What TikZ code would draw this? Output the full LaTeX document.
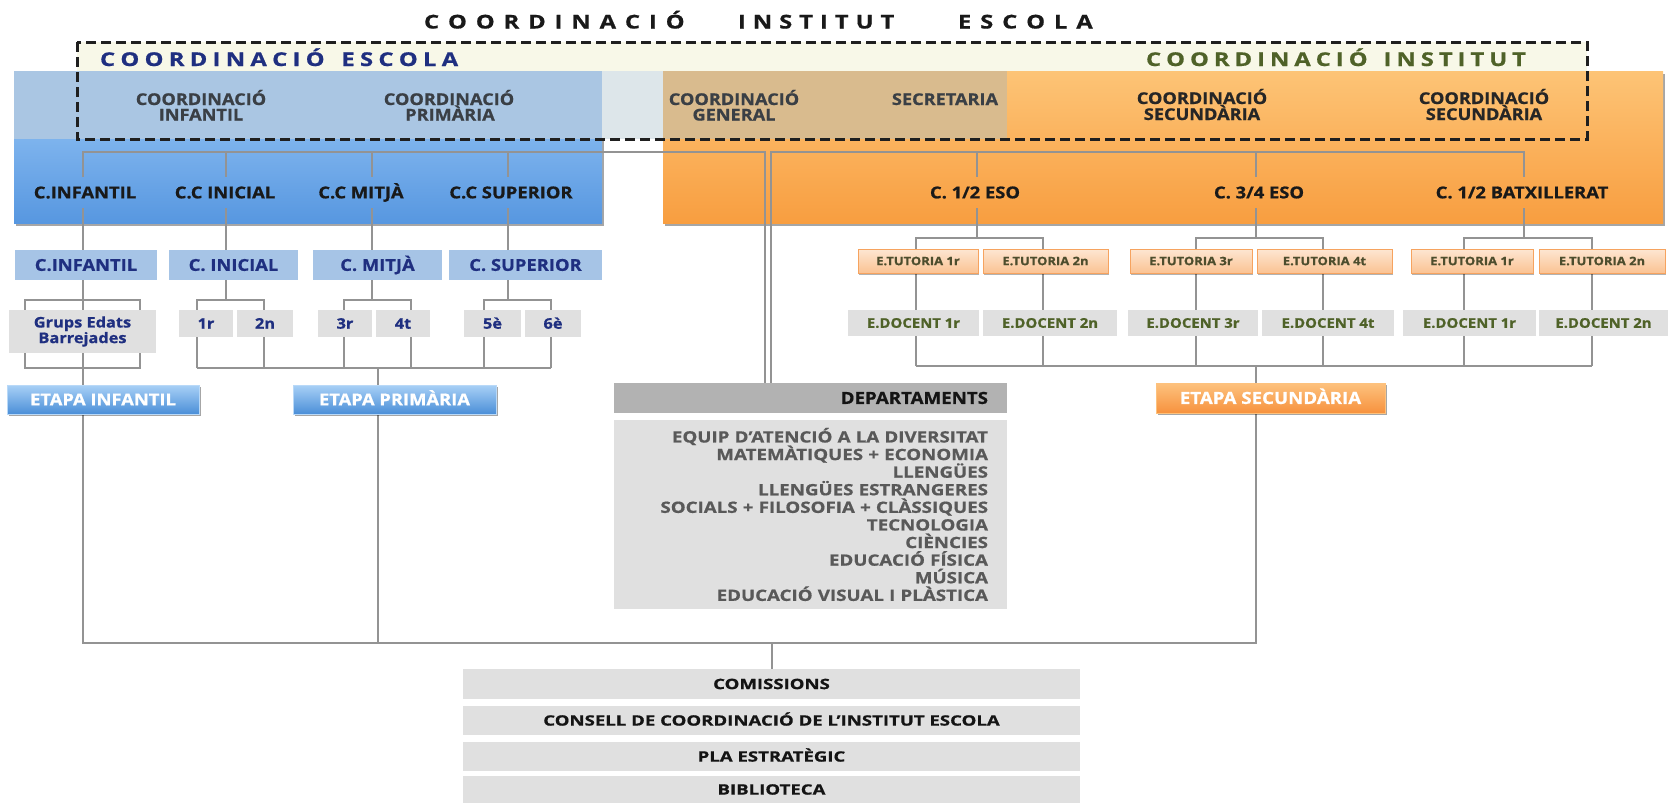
\documentclass[tikz,border=0pt]{standalone}
\usepackage{fontspec}
\setmainfont{Open Sans}
\newfontfamily\fa[FakeStretch=1.12,FakeBold=0.8]{Open Sans}
\newfontfamily\fb[FakeStretch=1.2,FakeBold=0.8]{Open Sans}
\newfontfamily\fc[FakeStretch=1.3,FakeBold=0.8]{Open Sans}
\newfontfamily\fh[FakeStretch=1.25,FakeBold=0.8]{Open Sans}
\usetikzlibrary{shadows,backgrounds}
\definecolor{navy}{HTML}{1F2F80}
\definecolor{olivegr}{HTML}{4F6228}
\definecolor{cream}{HTML}{F8F8E8}
\definecolor{connc}{HTML}{939393}
\definecolor{lblue}{HTML}{A6C4E6}
\definecolor{lgrey}{HTML}{E0E0E0}
\definecolor{mgrey}{HTML}{B2B2B2}
\definecolor{blueA}{HTML}{9CCAF8}
\definecolor{blueB}{HTML}{5797E0}
\definecolor{orA}{HTML}{FDC476}
\definecolor{orB}{HTML}{F89E40}
\definecolor{blueTop}{HTML}{AAC6E3}
\definecolor{gapc}{HTML}{DDE6EA}
\definecolor{tanc}{HTML}{D9BB8E}
\definecolor{dgrey}{HTML}{3A3F45}
\definecolor{etA}{HTML}{A8D0F6}
\definecolor{etB}{HTML}{4B8FD8}
\definecolor{esA}{HTML}{FDC27E}
\definecolor{esB}{HTML}{F7923E}
\definecolor{tuA}{HTML}{FDE6D2}
\definecolor{tuB}{HTML}{FBC393}
\definecolor{tuD}{HTML}{F6A35F}
\definecolor{tuT}{HTML}{4D4D2D}
\definecolor{depT}{HTML}{595959}
\newcommand\fsz[1]{\fontsize{#1}{#1}\selectfont}
% manual letter spacing: \lsp{kern}{word}
\newcommand\lsp[2]{\def\lspk{#1}\lspi#2\relax}
\def\lspi#1{\ifx#1\relax\else#1\kern\lspk\expandafter\lspi\fi}
\newcommand\boxnode[7]{\node[#6, minimum width={#4-#2}, minimum height={#5-#3}] (#1) at ({(#2+#4)/2},{(#3+#5)/2}) {#7};}
\tikzset{
  every node/.style={inner sep=0pt, outer sep=0pt},
  conn/.style={draw=connc, line width=1.5pt},
  bigbox/.style={drop shadow={shadow xshift=2pt, shadow yshift=-3pt, opacity=0.35, fill=black}},
  bluebig/.style={bigbox, top color=blueA, bottom color=blueB},
  orbig/.style={bigbox, top color=orA, bottom color=orB},
  dashbox/.style={draw=black!88, line width=3pt, dash pattern=on 10pt off 5pt},
  titletxt/.style={font=\fh\bfseries\fsz{19}, text=black!90, anchor=base west},
  headtxt/.style={font=\fh\bfseries\fsz{19}, anchor=base west},
  toptxt/.style={font=\fa\bfseries\fsz{16.2}, text=dgrey, anchor=base},
  bigtxt/.style={font=\fa\bfseries\fsz{16.4}, text=black!90, text height=11.7pt, text depth=0pt, minimum height=31pt},
  lb/.style={fill=lblue, text=navy, font=\fa\bfseries\fsz{16.4}, text height=11.7pt, text depth=0pt},
  gb/.style={fill=lgrey, text=navy, font=\fa\bfseries\fsz{14.6}, text height=10.4pt, text depth=0pt},
  gbm/.style={fill=lgrey, text=navy, font=\fa\bfseries\fontsize{14.6}{14.5}\selectfont, align=center},
  etb/.style={top color=etA, bottom color=etB, draw=etA!80!white, line width=0.8pt, text=white, font=\fa\bfseries\fsz{16.4}, text height=11.7pt, text depth=0pt, drop shadow={shadow xshift=1.5pt, shadow yshift=-2pt, opacity=0.35, fill=black}},
  ets/.style={top color=esA, bottom color=esB, draw=esA, line width=0.8pt, text=white, font=\fa\bfseries\fsz{16.7}, text height=11.9pt, text depth=0pt, drop shadow={shadow xshift=1.5pt, shadow yshift=-2pt, opacity=0.35, fill=black}},
  tut/.style={top color=tuA, bottom color=tuB, draw=tuD, line width=1pt, text=tuT, font=\fa\bfseries\fsz{11.6}, text height=8.3pt, text depth=0pt, drop shadow={shadow xshift=1pt, shadow yshift=-1.5pt, opacity=0.3, fill=black}},
  doc/.style={fill=lgrey, text=olivegr, font=\fa\bfseries\fsz{13.3}, text height=9.5pt, text depth=0pt},
  depst/.style={fill=mgrey, text=black!92, font=\fa\bfseries\fsz{16.7}, text height=11.9pt, text depth=0pt, text width=355pt, align=right},
  deplst/.style={fill=lgrey, text=depT, font=\fb\bfseries\fontsize{15.6}{17.6}\selectfont, text width=355pt, align=right},
  bot/.style={fill=lgrey, text=black!92, font=\fc\bfseries\fsz{14.3}, text height=10.2pt, text depth=0pt}
}
\begin{document}
\begin{tikzpicture}[x=1pt,y=-1pt]
\useasboundingbox (0,0) rectangle (1668,803);
% background blocks
\begin{pgfonlayer}{background}
\fill[cream] (77,42) rectangle (1587,139);
\boxnode{escola}{14}{71}{602}{223}{bluebig}{}
\boxnode{institut}{663}{71}{1663}{223}{orbig}{}
\fill[blueTop] (14,71) rectangle (602,139);
\fill[gapc] (602,71) rectangle (663,139);
\fill[tanc] (663,71) rectangle (1007,139);
\end{pgfonlayer}
\draw[dashbox] (77,42) rectangle (1587,139);
% titles
\node[titletxt] (ti1) at (424,28.5) {\lsp{8.9pt}{COORDINACIÓ}};
\node[titletxt] (ti2) at (738,28.5) {\lsp{7pt}{INSTITUT}};
\node[titletxt] (ti3) at (958,28.5) {\lsp{8.9pt}{ESCOLA}};
\node[headtxt, text=navy] (hE) at (100,66) {\lsp{5.3pt}{COORDINACIÓ}\hspace{11.5pt}\lsp{5.3pt}{ESCOLA}};
\node[headtxt, text=olivegr] (hI) at (1146,66) {\lsp{5pt}{COORDINACIÓ}\hspace{11pt}\lsp{5pt}{INSTITUT}};
% top row labels
\node[toptxt] (ciA) at (201,105) {COORDINACIÓ};
\node[toptxt] (ciB) at (201,120.5) {INFANTIL};
\node[toptxt] (cpA) at (449,105) {COORDINACIÓ};
\node[toptxt] (cpB) at (450,120.5) {PRIMÀRIA};
\node[toptxt] (cgA) at (734,105) {COORDINACIÓ};
\node[toptxt] (cgB) at (734,120.5) {GENERAL};
\node[toptxt] (sec) at (945,105) {SECRETARIA};
\node[toptxt, text=black!85] (csA) at (1202,104) {COORDINACIÓ};
\node[toptxt, text=black!85] (csB) at (1202,120) {SECUNDÀRIA};
\node[toptxt, text=black!85] (cdA) at (1484,104) {COORDINACIÓ};
\node[toptxt, text=black!85] (cdB) at (1484,120) {SECUNDÀRIA};
% big box row labels
\node[bigtxt] (tInf) at (85,192.5) {C.INFANTIL};
\node[bigtxt] (tIni) at (225,192.5) {C.C INICIAL};
\node[bigtxt] (tMit) at (361,192.5) {C.C MITJÀ};
\node[bigtxt] (tSup) at (511,192.5) {C.C SUPERIOR};
\node[bigtxt] (t12) at (975,192.5) {C. 1/2 ESO};
\node[bigtxt] (t34) at (1259,192.5) {C. 3/4 ESO};
\node[bigtxt] (tBat) at (1522,192.5) {C. 1/2 BATXILLERAT};
% primary side
\boxnode{lbInf}{15}{250}{157}{280}{lb}{C.INFANTIL}
\boxnode{lbIni}{169}{250}{298}{280}{lb}{C. INICIAL}
\boxnode{lbMit}{313}{250}{442}{280}{lb}{C. MITJÀ}
\boxnode{lbSup}{449}{250}{602}{280}{lb}{C. SUPERIOR}
\boxnode{grups}{9}{310}{156}{353}{gbm}{Grups Edats\\Barrejades}
\boxnode{g1}{179}{310}{233}{337}{gb}{1r}
\boxnode{g2}{237}{310}{293}{337}{gb}{2n}
\boxnode{g3}{318}{310}{372}{337}{gb}{3r}
\boxnode{g4}{376}{310}{430}{337}{gb}{4t}
\boxnode{g5}{464}{310}{521}{337}{gb}{5è}
\boxnode{g6}{525}{310}{581}{337}{gb}{6è}
\boxnode{etInf}{7}{385}{199}{414}{etb}{ETAPA INFANTIL}
\boxnode{etPri}{293}{385}{496}{414}{etb}{ETAPA PRIMÀRIA}
% secondary side
\boxnode{tu1}{858}{249}{978}{273}{tut}{E.TUTORIA 1r}
\boxnode{tu2}{983}{249}{1108}{273}{tut}{E.TUTORIA 2n}
\boxnode{tu3}{1130}{249}{1252}{273}{tut}{E.TUTORIA 3r}
\boxnode{tu4}{1257}{249}{1392}{273}{tut}{E.TUTORIA 4t}
\boxnode{tu5}{1411}{249}{1533}{273}{tut}{E.TUTORIA 1r}
\boxnode{tu6}{1539}{249}{1665}{273}{tut}{E.TUTORIA 2n}
\boxnode{ed1}{848}{310}{979}{336}{doc}{E.DOCENT 1r}
\boxnode{ed2}{983}{310}{1117}{336}{doc}{E.DOCENT 2n}
\boxnode{ed3}{1128}{310}{1258}{336}{doc}{E.DOCENT 3r}
\boxnode{ed4}{1262}{310}{1394}{336}{doc}{E.DOCENT 4t}
\boxnode{ed5}{1403}{310}{1536}{336}{doc}{E.DOCENT 1r}
\boxnode{ed6}{1539}{310}{1668}{336}{doc}{E.DOCENT 2n}
\boxnode{etSec}{1156}{383}{1385}{413}{ets}{ETAPA SECUNDÀRIA}
% departments
\boxnode{dep}{614}{383}{1007}{413}{depst}{DEPARTAMENTS}
\boxnode{deps}{614}{420}{1007}{609}{deplst}{EQUIP D’ATENCIÓ A LA DIVERSITAT\\MATEMÀTIQUES + ECONOMIA\\LLENGÜES\\LLENGÜES ESTRANGERES\\SOCIALS + FILOSOFIA + CLÀSSIQUES\\TECNOLOGIA\\CIÈNCIES\\EDUCACIÓ FÍSICA\\MÚSICA\\EDUCACIÓ VISUAL I PLÀSTICA}
% bottom
\boxnode{com}{463}{669}{1080}{699}{bot}{COMISSIONS}
\boxnode{cons}{463}{706}{1080}{735}{bot}{CONSELL DE COORDINACIÓ DE L’INSTITUT ESCOLA}
\boxnode{pla}{463}{742}{1080}{771}{bot}{PLA ESTRATÈGIC}
\boxnode{bib}{463}{776}{1080}{803}{bot}{BIBLIOTECA}
% junction coordinates
\coordinate (xA) at (83,152);
\coordinate (xB) at (226,152);
\coordinate (xC) at (372,152);
\coordinate (xD) at (508,152);
\coordinate (xL) at (765,152);
\coordinate (xR) at (771,152);
\coordinate (xE) at (977,152);
\coordinate (xF) at (1256,152);
\coordinate (xG) at (1524,152);
\coordinate (gbTL) at (25,300);
\coordinate (gbBR) at (140,368);
\coordinate (p1a) at (197,300);
\coordinate (p1b) at (264,300);
\coordinate (p2a) at (344,300);
\coordinate (p2b) at (411,300);
\coordinate (p3a) at (484,300);
\coordinate (p3b) at (551,300);
\coordinate (pbL) at (197,368);
\coordinate (pbR) at (551,368);
\coordinate (xP) at (378,368);
\coordinate (s1a) at (916,238);
\coordinate (s1b) at (1043,238);
\coordinate (s2a) at (1196,238);
\coordinate (s2b) at (1323,238);
\coordinate (s3a) at (1464,238);
\coordinate (s3b) at (1592,238);
\coordinate (sbL) at (916,366);
\coordinate (sbR) at (1592,366);
\coordinate (xS) at (1256,366);
\coordinate (bbL) at (83,643);
\coordinate (xM) at (772,643);
% connectors
\begin{pgfonlayer}{background}
\draw[conn] (xA |- tInf.north) -- (xA) -- (xL) -- (xL |- dep.north);
\draw[conn] (xB) -- (xB |- tIni.north);
\draw[conn] (xC) -- (xC |- tMit.north);
\draw[conn] (xD) -- (xD |- tSup.north);
\draw[conn] (xA |- tInf.south) -- (xA |- lbInf.north);
\draw[conn] (xB |- tIni.south) -- (xB |- lbIni.north);
\draw[conn] (xC |- tMit.south) -- (xC |- lbMit.north);
\draw[conn] (xD |- tSup.south) -- (xD |- lbSup.north);
\draw[conn] (xA |- lbInf.south) -- (xA |- etInf.north);
\draw[conn] (gbTL) rectangle (gbBR);
\draw[conn] (xB |- lbIni.south) -- (xB |- p1a);
\draw[conn] (xC |- lbMit.south) -- (xC |- p2a);
\draw[conn] (xD |- lbSup.south) -- (xD |- p3a);
\draw[conn] (pbL) -- (p1a) -- (p1b) -- (p1b |- pbL);
\draw[conn] (p2a |- pbL) -- (p2a) -- (p2b) -- (p2b |- pbL);
\draw[conn] (p3a |- pbL) -- (p3a) -- (p3b) -- (pbR);
\draw[conn] (pbL) -- (pbR);
\draw[conn] (xP) -- (xP |- etPri.north);
\draw[conn] (xA |- etInf.south) -- (bbL) -- (xS |- bbL) -- (xS |- etSec.south);
\draw[conn] (xP |- etPri.south) -- (xP |- bbL);
\draw[conn] (xM) -- (xM |- com.north);
\draw[conn] (xR |- dep.north) -- (xR) -- (xG) -- (xG |- tBat.north);
\draw[conn] (xE) -- (xE |- t12.north);
\draw[conn] (xF) -- (xF |- t34.north);
\draw[conn] (xE |- t12.south) -- (xE |- s1a);
\draw[conn] (xF |- t34.south) -- (xF |- s2a);
\draw[conn] (xG |- tBat.south) -- (xG |- s3a);
\draw[conn] (sbL) -- (s1a) -- (s1b) -- (s1b |- sbL);
\draw[conn] (s2a |- sbL) -- (s2a) -- (s2b) -- (s2b |- sbL);
\draw[conn] (s3a |- sbL) -- (s3a) -- (s3b) -- (sbR);
\draw[conn] (sbL) -- (sbR);
\draw[conn] (xS) -- (xS |- etSec.north);
\end{pgfonlayer}
\end{tikzpicture}
\end{document}
